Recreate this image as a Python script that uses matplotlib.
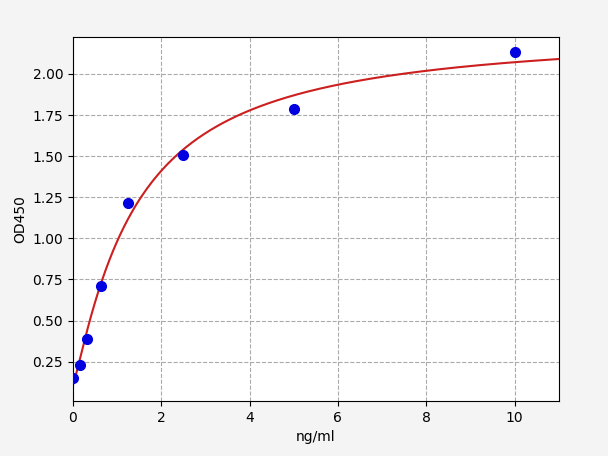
import matplotlib
matplotlib.use("Agg")
import matplotlib.pyplot as plt
import numpy as np

# standard curve readings
conc = [0, 0.156, 0.3125, 0.625, 1.25, 2.5, 5, 10]
od450 = [0.15, 0.232, 0.39, 0.713, 1.213, 1.506, 1.787, 2.134]

x = np.array(conc)
y = np.array(od450)


# 4PL fit: y = d + (a - d) / (1 + (x/c)^b); a, d solved linearly for each (b, c)
def fit_4pl(x, y):
    best = None
    for b in np.linspace(0.5, 3.0, 126):
        for c in np.geomspace(0.3, 30, 300):
            g = 1.0 / (1.0 + (x / c) ** b)
            A = np.column_stack([g, 1 - g])
            coef, *_ = np.linalg.lstsq(A, y, rcond=None)
            err = np.sum((A @ coef - y) ** 2)
            if best is None or err < best[0]:
                best = (err, coef[0], b, c, coef[1])
    return best[1:]


a, b, c, d = fit_4pl(x, y)
xs = np.linspace(0, 11, 400)
ys = d + (a - d) / (1 + (xs / c) ** b)

fig = plt.figure(figsize=(6.08, 4.5601), dpi=100, facecolor="#f4f4f4")
ax = fig.add_axes([0.120, 0.121, 0.799, 0.798])
ax.plot(xs, ys, color="#cc1f1f", linewidth=1.5, zorder=2)
ax.plot(x, y, "o", color="#0000e0", markersize=7, zorder=3)
ax.set_xlim(0, 11)
ax.set_ylim(0.012, 2.225)
ax.set_yticks([0.25, 0.5, 0.75, 1.0, 1.25, 1.5, 1.75, 2.0])
ax.set_xlabel("ng/ml")
ax.set_ylabel("OD450")
ax.grid(True, linestyle="--", color="#aaaaaa", linewidth=0.8)

plt.savefig("out.png", dpi=100, facecolor=fig.get_facecolor())
